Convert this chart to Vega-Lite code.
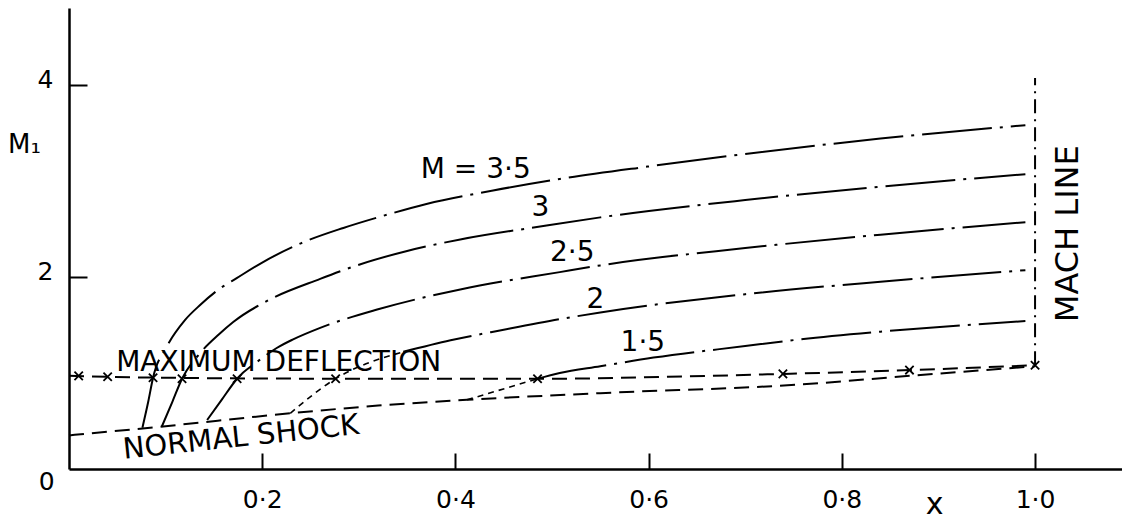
{
  "$schema": "https://vega.github.io/schema/vega-lite/v6.json",
  "width": 1053,
  "height": 461,
  "autosize": {"type": "none"},
  "padding": {"left": 69, "top": 8, "right": 0, "bottom": 55},
  "background": "white",
  "config": {
    "view": {"stroke": null},
    "font": "DejaVu Sans",
    "text": {"font": "DejaVu Sans", "color": "black"},
    "axis": {"grid": false, "domainColor": "black", "domainWidth": 2.5, "tickColor": "black", "tickWidth": 2, "labelColor": "black", "labelFont": "DejaVu Sans", "titleFont": "DejaVu Sans", "titleColor": "black", "titleFontWeight": "normal"}
  },
  "datasets": {
    "curves": [
      {"M": "3.5", "x": 0.076, "y": 0.43}, {"M": "3.5", "x": 0.082, "y": 0.70}, {"M": "3.5", "x": 0.087, "y": 0.95}, {"M": "3.5", "x": 0.101, "y": 1.27}, {"M": "3.5", "x": 0.12, "y": 1.55}, {"M": "3.5", "x": 0.136, "y": 1.71}, {"M": "3.5", "x": 0.155, "y": 1.87}, {"M": "3.5", "x": 0.174, "y": 1.99}, {"M": "3.5", "x": 0.2, "y": 2.15}, {"M": "3.5", "x": 0.24, "y": 2.35}, {"M": "3.5", "x": 0.284, "y": 2.51}, {"M": "3.5", "x": 0.33, "y": 2.65}, {"M": "3.5", "x": 0.37, "y": 2.76}, {"M": "3.5", "x": 0.439, "y": 2.90}, {"M": "3.5", "x": 0.508, "y": 3.02}, {"M": "3.5", "x": 0.6, "y": 3.15}, {"M": "3.5", "x": 0.7, "y": 3.28}, {"M": "3.5", "x": 0.84, "y": 3.44}, {"M": "3.5", "x": 0.99, "y": 3.58},
      {"M": "3", "x": 0.096, "y": 0.44}, {"M": "3", "x": 0.107, "y": 0.70}, {"M": "3", "x": 0.117, "y": 0.94}, {"M": "3", "x": 0.136, "y": 1.21}, {"M": "3", "x": 0.155, "y": 1.40}, {"M": "3", "x": 0.17, "y": 1.53}, {"M": "3", "x": 0.205, "y": 1.75}, {"M": "3", "x": 0.26, "y": 1.98}, {"M": "3", "x": 0.301, "y": 2.13}, {"M": "3", "x": 0.35, "y": 2.27}, {"M": "3", "x": 0.405, "y": 2.39}, {"M": "3", "x": 0.491, "y": 2.53}, {"M": "3", "x": 0.55, "y": 2.62}, {"M": "3", "x": 0.7, "y": 2.80}, {"M": "3", "x": 0.84, "y": 2.94}, {"M": "3", "x": 0.99, "y": 3.07},
      {"M": "2.5", "x": 0.143, "y": 0.51}, {"M": "2.5", "x": 0.158, "y": 0.72}, {"M": "2.5", "x": 0.174, "y": 0.94}, {"M": "2.5", "x": 0.198, "y": 1.14}, {"M": "2.5", "x": 0.215, "y": 1.26}, {"M": "2.5", "x": 0.232, "y": 1.35}, {"M": "2.5", "x": 0.26, "y": 1.47}, {"M": "2.5", "x": 0.319, "y": 1.66}, {"M": "2.5", "x": 0.405, "y": 1.87}, {"M": "2.5", "x": 0.508, "y": 2.05}, {"M": "2.5", "x": 0.55, "y": 2.12}, {"M": "2.5", "x": 0.7, "y": 2.30}, {"M": "2.5", "x": 0.84, "y": 2.44}, {"M": "2.5", "x": 0.99, "y": 2.57},
      {"M": "2", "x": 0.346, "y": 1.22}, {"M": "2", "x": 0.395, "y": 1.34}, {"M": "2", "x": 0.45, "y": 1.45}, {"M": "2", "x": 0.508, "y": 1.56}, {"M": "2", "x": 0.55, "y": 1.63}, {"M": "2", "x": 0.7, "y": 1.82}, {"M": "2", "x": 0.84, "y": 1.95}, {"M": "2", "x": 0.99, "y": 2.07},
      {"M": "1.5", "x": 0.485, "y": 0.94}, {"M": "1.5", "x": 0.508, "y": 1.0}, {"M": "1.5", "x": 0.55, "y": 1.07}, {"M": "1.5", "x": 0.605, "y": 1.16}, {"M": "1.5", "x": 0.7, "y": 1.28}, {"M": "1.5", "x": 0.757, "y": 1.35}, {"M": "1.5", "x": 0.84, "y": 1.43}, {"M": "1.5", "x": 0.99, "y": 1.54}
    ],
    "dotted": [
      {"M": "2", "x": 0.229, "y": 0.58}, {"M": "2", "x": 0.276, "y": 0.94}, {"M": "2", "x": 0.346, "y": 1.22},
      {"M": "1.5", "x": 0.412, "y": 0.72}, {"M": "1.5", "x": 0.485, "y": 0.94}
    ],
    "maxdef": [
      {"x": 0.0, "y": 0.97}, {"x": 0.1, "y": 0.95}, {"x": 0.3, "y": 0.94}, {"x": 0.5, "y": 0.94}, {"x": 0.62, "y": 0.96}, {"x": 0.74, "y": 0.99}, {"x": 0.87, "y": 1.03}, {"x": 1.0, "y": 1.08}
    ],
    "shock": [
      {"x": 0.0, "y": 0.35}, {"x": 0.094, "y": 0.44}, {"x": 0.229, "y": 0.58}, {"x": 0.32, "y": 0.66}, {"x": 0.412, "y": 0.72}, {"x": 0.55, "y": 0.79}, {"x": 0.757, "y": 0.88}, {"x": 0.87, "y": 0.97}, {"x": 1.0, "y": 1.07}
    ],
    "mach": [
      {"x": 1.0, "y": 1.08}, {"x": 1.0, "y": 4.07}
    ],
    "crosses": [
      {"x": 0.01, "y": 0.97}, {"x": 0.04, "y": 0.96}, {"x": 0.087, "y": 0.95}, {"x": 0.117, "y": 0.94}, {"x": 0.174, "y": 0.94}, {"x": 0.276, "y": 0.94}, {"x": 0.485, "y": 0.94}, {"x": 0.739, "y": 0.99}, {"x": 0.87, "y": 1.03}, {"x": 1.0, "y": 1.08}
    ],
    "labels": [
      {"x": 0.421, "y": 3.11, "label": "M = 3·5"},
      {"x": 0.488, "y": 2.72, "label": "3"},
      {"x": 0.521, "y": 2.25, "label": "2·5"},
      {"x": 0.545, "y": 1.76, "label": "2"},
      {"x": 0.594, "y": 1.31, "label": "1·5"},
      {"x": 0.217, "y": 1.10, "label": "MAXIMUM DEFLECTION"}
    ],
    "origin": [{"x": -0.023, "y": -0.135, "label": "0"}],
    "shocklabel": [{"x": 0.178, "y": 0.33, "label": "NORMAL SHOCK"}],
    "machlabel": [{"x": 1.034, "y": 2.45, "label": "MACH LINE"}]
  },
  "encoding": {
    "x": {"field": "x", "type": "quantitative", "scale": {"domain": [0, 1.09], "nice": false, "zero": false},
      "axis": {"values": [0.2, 0.4, 0.6, 0.8, 1.0], "labelExpr": "replace(format(datum.value, '.1f'), '.', '·')", "tickSize": -16, "labelPadding": 34, "labelFontSize": 25, "title": "x", "titleX": 865, "titleY": 44, "titleAlign": "center", "titleBaseline": "alphabetic", "titleFontSize": 30}},
    "y": {"field": "y", "type": "quantitative", "scale": {"domain": [0, 4.8], "nice": false, "zero": false},
      "axis": {"values": [2, 4], "tickSize": -18, "labelPadding": 34, "labelOffset": -5, "labelFontSize": 25, "labelBaseline": "middle", "title": "M₁", "titleAngle": 0, "titleX": -45, "titleY": 136, "titleAlign": "center", "titleBaseline": "middle", "titleFontSize": 26}}
  },
  "layer": [
    {"data": {"name": "curves"}, "mark": {"type": "line", "interpolate": "monotone", "color": "black", "strokeWidth": 2, "strokeDash": [70, 8, 3, 8]}, "encoding": {"detail": {"field": "M"}}},
    {"data": {"name": "dotted"}, "mark": {"type": "line", "interpolate": "monotone", "color": "black", "strokeWidth": 1.6, "strokeDash": [6, 5]}, "encoding": {"detail": {"field": "M"}}},
    {"data": {"name": "maxdef"}, "mark": {"type": "line", "interpolate": "monotone", "color": "black", "strokeWidth": 2, "strokeDash": [15, 8]}, "encoding": {}},
    {"data": {"name": "shock"}, "mark": {"type": "line", "interpolate": "monotone", "color": "black", "strokeWidth": 2, "strokeDash": [15, 8]}, "encoding": {}},
    {"data": {"name": "mach"}, "mark": {"type": "line", "color": "black", "strokeWidth": 2, "strokeDash": [14, 6, 2, 6]}, "encoding": {}},
    {"data": {"name": "crosses"}, "mark": {"type": "point", "shape": "M-1,-1L1,1M-1,1L1,-1", "filled": false, "color": "black", "strokeWidth": 1.8, "size": 70, "opacity": 1}},
    {"data": {"name": "labels"}, "mark": {"type": "text", "fontSize": 28, "align": "center", "baseline": "middle"}, "encoding": {"text": {"field": "label"}}},
    {"data": {"name": "origin"}, "mark": {"type": "text", "fontSize": 25, "align": "center", "baseline": "middle"}, "encoding": {"text": {"field": "label"}}},
    {"data": {"name": "shocklabel"}, "mark": {"type": "text", "fontSize": 29, "align": "center", "baseline": "middle", "angle": 354}, "encoding": {"text": {"field": "label"}}},
    {"data": {"name": "machlabel"}, "mark": {"type": "text", "fontSize": 32, "align": "center", "baseline": "middle", "angle": 270}, "encoding": {"text": {"field": "label"}}}
  ]
}
